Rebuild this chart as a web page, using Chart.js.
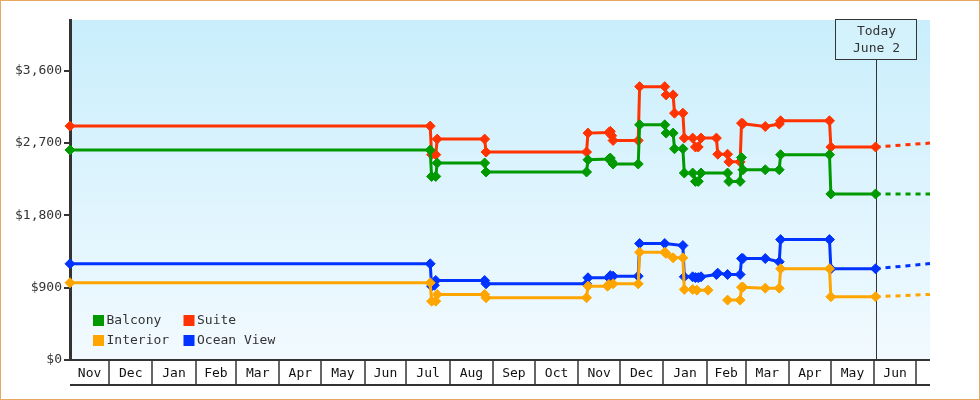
<!DOCTYPE html>
<html>
<head>
  <meta charset="UTF-8">
  <title>Cabin price history</title>
  <script src="https://cdn.jsdelivr.net/npm/chart.js"></script>
  <style>
    html, body { margin: 0; padding: 0; background: #fff; }
    canvas { display: block; }
  </style>
</head>
<body>
  <canvas id="priceChart" width="980" height="400"></canvas>

  <script>
    // price observations: [date, price]
    const balcony = [
      ['2015-11-03', 2612], ['2016-07-18', 2612], ['2016-07-19', 2284], ['2016-07-22', 2284],
      ['2016-07-23', 2451], ['2016-08-26', 2451], ['2016-08-27', 2339], ['2016-11-07', 2339],
      ['2016-11-08', 2491], ['2016-11-23', 2500], ['2016-11-24', 2512], ['2016-11-25', 2470],
      ['2016-11-26', 2438], ['2016-12-14', 2438], ['2016-12-15', 2926], ['2017-01-02', 2926],
      ['2017-01-03', 2823], ['2017-01-08', 2823], ['2017-01-09', 2628], ['2017-01-15', 2628],
      ['2017-01-16', 2326], ['2017-01-22', 2326], ['2017-01-24', 2222], ['2017-01-26', 2222],
      ['2017-01-28', 2326], ['2017-02-16', 2326], ['2017-02-17', 2222], ['2017-02-25', 2222],
      ['2017-02-26', 2520], ['2017-02-27', 2367], ['2017-03-15', 2367], ['2017-03-25', 2367],
      ['2017-03-26', 2554], ['2017-04-30', 2554], ['2017-05-01', 2066], ['2017-06-02', 2066]
    ];
    const suite = [
      ['2015-11-03', 2910], ['2016-07-18', 2910], ['2016-07-19', 2554], ['2016-07-22', 2554],
      ['2016-07-23', 2748], ['2016-08-26', 2748], ['2016-08-27', 2587], ['2016-11-07', 2587],
      ['2016-11-08', 2823], ['2016-11-23', 2830], ['2016-11-24', 2845], ['2016-11-25', 2790],
      ['2016-11-26', 2731], ['2016-12-14', 2731], ['2016-12-15', 3401], ['2017-01-02', 3401],
      ['2017-01-03', 3298], ['2017-01-08', 3298], ['2017-01-09', 3071], ['2017-01-15', 3071],
      ['2017-01-16', 2761], ['2017-01-22', 2761], ['2017-01-24', 2650], ['2017-01-26', 2650],
      ['2017-01-28', 2761], ['2017-02-08', 2761], ['2017-02-09', 2560], ['2017-02-16', 2560],
      ['2017-02-17', 2465], ['2017-02-25', 2465], ['2017-02-26', 2947], ['2017-02-27', 2940],
      ['2017-03-15', 2905], ['2017-03-25', 2935], ['2017-03-26', 2976], ['2017-04-30', 2976],
      ['2017-05-01', 2650], ['2017-06-02', 2650]
    ];
    const interior = [
      ['2015-11-03', 961], ['2016-07-18', 961], ['2016-07-19', 732], ['2016-07-22', 732],
      ['2016-07-23', 816], ['2016-08-26', 816], ['2016-08-27', 775], ['2016-11-07', 775],
      ['2016-11-08', 919], ['2016-11-22', 919], ['2016-11-23', 940], ['2016-11-26', 948],
      ['2016-12-14', 948], ['2016-12-15', 1341], ['2017-01-02', 1341], ['2017-01-03', 1325],
      ['2017-01-08', 1271], ['2017-01-15', 1271], ['2017-01-16', 878], ['2017-01-22', 878],
      ['2017-01-25', 869], ['2017-02-02', 869], ['2017-02-09', null], ['2017-02-16', 745],
      ['2017-02-25', 745], ['2017-02-26', 906], ['2017-02-27', 906], ['2017-03-15', 894],
      ['2017-03-25', 894], ['2017-03-26', 1135], ['2017-04-30', 1135], ['2017-05-01', 787],
      ['2017-06-02', 787]
    ];
    const oceanView = [
      ['2015-11-03', 1197], ['2016-07-18', 1197], ['2016-07-19', 919], ['2016-07-21', 930],
      ['2016-07-22', 989], ['2016-08-26', 989], ['2016-08-27', 948], ['2016-11-07', 948],
      ['2016-11-08', 1023], ['2016-11-23', 1023], ['2016-11-24', 1050], ['2016-11-26', 1043],
      ['2016-12-14', 1043], ['2016-12-15', 1449], ['2017-01-02', 1449], ['2017-01-15', 1424],
      ['2017-01-16', 1035], ['2017-01-22', 1035], ['2017-01-24', 1025], ['2017-01-26', 1025],
      ['2017-01-28', 1035], ['2017-02-08', 1064], ['2017-02-09', 1080], ['2017-02-16', 1064],
      ['2017-02-25', 1064], ['2017-02-26', 1262], ['2017-02-27', 1262], ['2017-03-15', 1262],
      ['2017-03-25', 1222], ['2017-03-26', 1498], ['2017-04-30', 1498], ['2017-05-01', 1135],
      ['2017-06-02', 1135]
    ];

    // dotted projection past today
    const balconyAhead = [['2017-06-02', 2066], ['2017-07-11', 2066]];
    const suiteAhead = [['2017-06-02', 2650], ['2017-07-11', 2699]];
    const interiorAhead = [['2017-06-02', 787], ['2017-07-11', 816]];
    const oceanViewAhead = [['2017-06-02', 1135], ['2017-07-11', 1200]];

    const yTicks = [0, 900, 1800, 2700, 3600];
    const monthStarts = [
      '2015-11-01', '2015-12-01', '2016-01-01', '2016-02-01', '2016-03-01', '2016-04-01',
      '2016-05-01', '2016-06-01', '2016-07-01', '2016-08-01', '2016-09-01', '2016-10-01',
      '2016-11-01', '2016-12-01', '2017-01-01', '2017-02-01', '2017-03-01', '2017-04-01',
      '2017-05-01', '2017-06-01', '2017-07-01', '2017-08-01'
    ];
    const monthLabels = ['Nov', 'Dec', 'Jan', 'Feb', 'Mar', 'Apr', 'May', 'Jun', 'Jul', 'Aug', 'Sep',
      'Oct', 'Nov', 'Dec', 'Jan', 'Feb', 'Mar', 'Apr', 'May', 'Jun', 'Jul'];
    const rangeStart = '2015-11-03';
    const rangeEnd = '2017-07-11';
    const today = '2017-06-02';
    const todayText = ['Today', 'June 2'];

    const GREEN = '#009900', RED = '#ff3300', ORANGE = '#ffa500', BLUE = '#0033ff';
    const INK = '#333';
    const FONT = '13px "DejaVu Sans Mono", monospace';

    const day = s => Date.UTC(+s.slice(0, 4), +s.slice(5, 7) - 1, +s.slice(8, 10)) / 86400000;
    const pts = arr => arr.map(([d, v]) => ({ x: day(d), y: v }));

    function series(label, arr, color) {
      return {
        label: label, data: pts(arr), borderColor: color, backgroundColor: color,
        borderWidth: 3, pointStyle: 'rectRot', pointRadius: 5, pointBorderWidth: 1,
        tension: 0, spanGaps: false, clip: false
      };
    }
    function ahead(arr, color) {
      return {
        label: '', data: pts(arr), borderColor: color, borderWidth: 3,
        borderDash: [5, 5], pointRadius: 0, tension: 0, clip: false
      };
    }

    // plot background + outer frame
    const backdrop = {
      id: 'backdrop',
      beforeDraw(chart) {
        const { ctx, chartArea: a } = chart;
        ctx.save();
        const g = ctx.createLinearGradient(0, a.top, 0, a.bottom);
        g.addColorStop(0, '#c9eefc');
        g.addColorStop(1, '#f2faff');
        ctx.fillStyle = g;
        ctx.fillRect(a.left, a.top, a.right - a.left, a.bottom - a.top);
        ctx.strokeStyle = '#e8a862';
        ctx.lineWidth = 1;
        ctx.strokeRect(0.5, 0.5, chart.width - 1, chart.height - 1);
        // today line under the marks
        const tx = Math.round(chart.scales.x.getPixelForValue(day(today))) + 0.5;
        ctx.strokeStyle = INK;
        ctx.beginPath();
        ctx.moveTo(tx, 60);
        ctx.lineTo(tx, a.bottom);
        ctx.stroke();
        ctx.restore();
      }
    };

    // month cells under the plot
    const monthAxis = {
      id: 'monthAxis',
      afterDraw(chart) {
        const { ctx, chartArea: a } = chart;
        const xs = chart.scales.x;
        const top = a.bottom, bottom = a.bottom + 25;
        ctx.save();
        ctx.strokeStyle = INK;
        ctx.lineWidth = 2;
        ctx.beginPath();
        ctx.moveTo(a.left, top); ctx.lineTo(a.right, top);
        ctx.moveTo(a.left, bottom); ctx.lineTo(a.right, bottom);
        ctx.stroke();
        ctx.lineWidth = 1.5;
        ctx.font = FONT;
        ctx.fillStyle = '#111';
        ctx.textAlign = 'center';
        ctx.textBaseline = 'middle';
        for (let i = 0; i < monthLabels.length; i++) {
          const x0 = Math.max(a.left, xs.getPixelForValue(day(monthStarts[i])));
          const x1 = Math.min(a.right, xs.getPixelForValue(day(monthStarts[i + 1])));
          if (x1 <= x0) continue;
          if (x0 > a.left + 1) {
            ctx.beginPath();
            ctx.moveTo(Math.round(x0), top); ctx.lineTo(Math.round(x0), bottom);
            ctx.stroke();
          }
          if (x1 - x0 > 30) ctx.fillText(monthLabels[i], (x0 + x1) / 2, (top + bottom) / 2 + 1);
        }
        ctx.restore();
      }
    };

    // "Today" flag + in-plot legend
    const overlay = {
      id: 'overlay',
      afterDraw(chart) {
        const { ctx, chartArea: a } = chart;
        const tx = Math.round(chart.scales.x.getPixelForValue(day(today))) + 0.5;
        ctx.save();
        ctx.fillStyle = '#d3f2fc';
        ctx.fillRect(tx - 41, 19.5, 81, 40);
        ctx.strokeStyle = INK;
        ctx.lineWidth = 1;
        ctx.strokeRect(tx - 41, 19.5, 81, 40);
        ctx.font = FONT;
        ctx.fillStyle = INK;
        ctx.textAlign = 'center';
        ctx.textBaseline = 'middle';
        ctx.fillText(todayText[0], tx, 32);
        ctx.fillText(todayText[1], tx, 49);

        const items = [['Balcony', GREEN, 0, 0], ['Suite', RED, 1, 0], ['Interior', ORANGE, 0, 1], ['Ocean View', BLUE, 1, 1]];
        ctx.textAlign = 'left';
        items.forEach(([name, col, c, r]) => {
          const bx = a.left + 23 + c * 90.5, by = a.bottom - 45 + r * 20;
          ctx.fillStyle = col;
          ctx.fillRect(bx, by, 11, 11);
          ctx.fillStyle = INK;
          ctx.fillText(name, bx + 13.5, by + 6);
        });
        ctx.restore();
      }
    };

    Chart.defaults.font.family = '"DejaVu Sans Mono", monospace';
    Chart.defaults.font.size = 13;

    new Chart(document.getElementById('priceChart'), {
      type: 'line',
      data: {
        datasets: [
          ahead(balconyAhead, GREEN), ahead(suiteAhead, RED),
          ahead(interiorAhead, ORANGE), ahead(oceanViewAhead, BLUE),
          series('Balcony', balcony, GREEN), series('Suite', suite, RED),
          series('Interior', interior, ORANGE), series('Ocean View', oceanView, BLUE)
        ]
      },
      options: {
        responsive: false,
        animation: false,
        devicePixelRatio: 1,
        layout: { padding: { top: 20, right: 50, bottom: 40, left: 0 } },
        plugins: { legend: { display: false }, tooltip: { enabled: false } },
        scales: {
          x: { type: 'linear', display: false, min: day(rangeStart), max: day(rangeEnd) },
          y: {
            min: 0, max: 4230,
            afterBuildTicks: s => { s.ticks = yTicks.map(v => ({ value: v })); },
            afterFit: s => { s.width = 70; },
            grid: { drawOnChartArea: false, tickLength: 6, color: INK, lineWidth: 2 },
            border: { display: true, color: INK, width: 3 },
            ticks: { color: INK, padding: 2, callback: v => '$' + v.toLocaleString('en-US') }
          }
        }
      },
      plugins: [backdrop, monthAxis, overlay]
    });
  </script>
</body>
</html>
